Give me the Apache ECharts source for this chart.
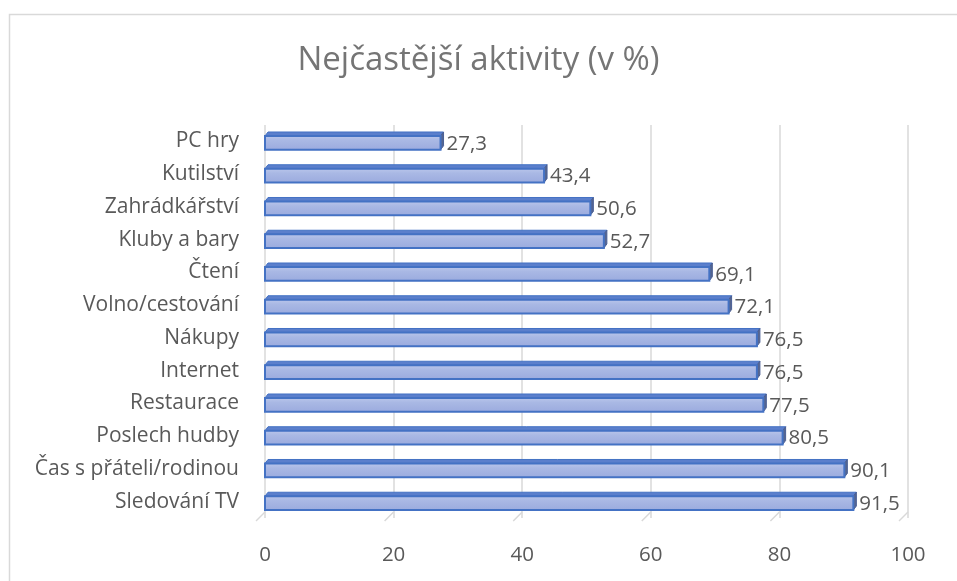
<!DOCTYPE html>
<html>
<head>
<meta charset="utf-8">
<script src="https://cdn.jsdelivr.net/npm/echarts@6/dist/echarts.min.js"></script>
<style>html,body{margin:0;padding:0;background:#fff}#c{width:957px;height:581px}</style>
</head>
<body>
<div id="c"></div>
<script>
const titleText = 'Nejčastější aktivity (v %)';
const categories = ['PC hry','Kutilství','Zahrádkářství','Kluby a bary','Čtení','Volno/cestování','Nákupy','Internet','Restaurace','Poslech hudby','Čas s přáteli/rodinou','Sledování TV'];
const values = [27.3,43.4,50.6,52.7,69.1,72.1,76.5,76.5,77.5,80.5,90.1,91.5];
const xTicks = [0,20,40,60,80,100];

const FONT = '"Open Sans", "Noto Sans", sans-serif';
const chart = echarts.init(document.getElementById('c'), null, {renderer:'canvas'});

function renderBar(params, api){
  const idx = api.value(1), v = api.value(0);
  const s = api.coord([0, idx]);
  const e = api.coord([v, idx]);
  const band = api.size([0,1])[1];
  const h = band * 0.42;
  const d = 4, dx = 3;
  const cy = s[1] + 1.5;
  const x0 = s[0], x1 = e[0];
  const top = cy - h/2, bot = cy + h/2;
  return {
    type:'group',
    children:[
      {type:'polygon', shape:{points:[[x0,top],[x0+dx,top-d],[x1+dx,top-d],[x1,top]]},
        style:{fill:'#5b7fcc', stroke:'#4472C4', lineWidth:1}},
      {type:'polygon', shape:{points:[[x1,top],[x1+dx,top-d],[x1+dx,bot-d],[x1,bot]]},
        style:{fill:'#55658f', stroke:'#4a5f95', lineWidth:1}},
      {type:'rect', shape:{x:x0, y:top, width:x1-x0, height:h},
        style:{fill:new echarts.graphic.LinearGradient(0,0,0,1,[{offset:0,color:'#bcc8ec'},{offset:0.35,color:'#a9b8e4'},{offset:1,color:'#9aaade'}]),
          stroke:'#4472C4', lineWidth:2}},
      {type:'text', x:x1+dx+3, y:cy+1,
        style:{text:String(v).replace('.',','), fill:'#595959', font:'20.5px '+FONT, verticalAlign:'middle', align:'left'}}
    ]
  };
}

function renderFloorTick(params, api){
  const t = api.value(0);
  const p = api.coord([t, categories.length - 1]);
  const half = api.size([0,1])[1] / 2;
  const y = p[1] + half;
  return {type:'line', shape:{x1:p[0], y1:y-6, x2:p[0]-9, y2:y+3},
    style:{stroke:'#d9d9d9', lineWidth:1.5}};
}

chart.setOption({
  animation:false,
  backgroundColor:'#fff',
  graphic:[{type:'rect', left:7, top:12, shape:{width:1200, height:800}, style:{fill:'none', stroke:'#d9d9d9', lineWidth:1.5}, silent:true}],
  title:{text:titleText, left:'center', top:39, textStyle:{fontFamily:FONT, fontSize:33, fontWeight:'normal', color:'#757575'}},
  grid:{left:265, right:49, top:125, bottom:63, containLabel:false},
  xAxis:{type:'value', min:0, max:100, interval:20,
    axisLine:{show:false}, axisTick:{show:false},
    splitLine:{show:true, lineStyle:{color:'#d9d9d9', width:1.5}},
    axisLabel:{margin:27, fontFamily:FONT, fontSize:20.5, color:'#595959',
      formatter:function(v){return xTicks.indexOf(v)>=0 ? String(v) : '';}}},
  yAxis:{type:'category', data:categories, inverse:true,
    axisLine:{show:false}, axisTick:{show:false},
    axisLabel:{margin:26, fontFamily:FONT, fontSize:21, color:'#595959'}},
  series:[
    {type:'custom', renderItem:renderFloorTick, encode:{x:0}, data:xTicks.map(t=>[t]), z:1, silent:true},
    {type:'custom', renderItem:renderBar, encode:{x:0,y:1}, data:values.map((v,i)=>[v,i]), z:2}
  ]
});
</script>
</body>
</html>
